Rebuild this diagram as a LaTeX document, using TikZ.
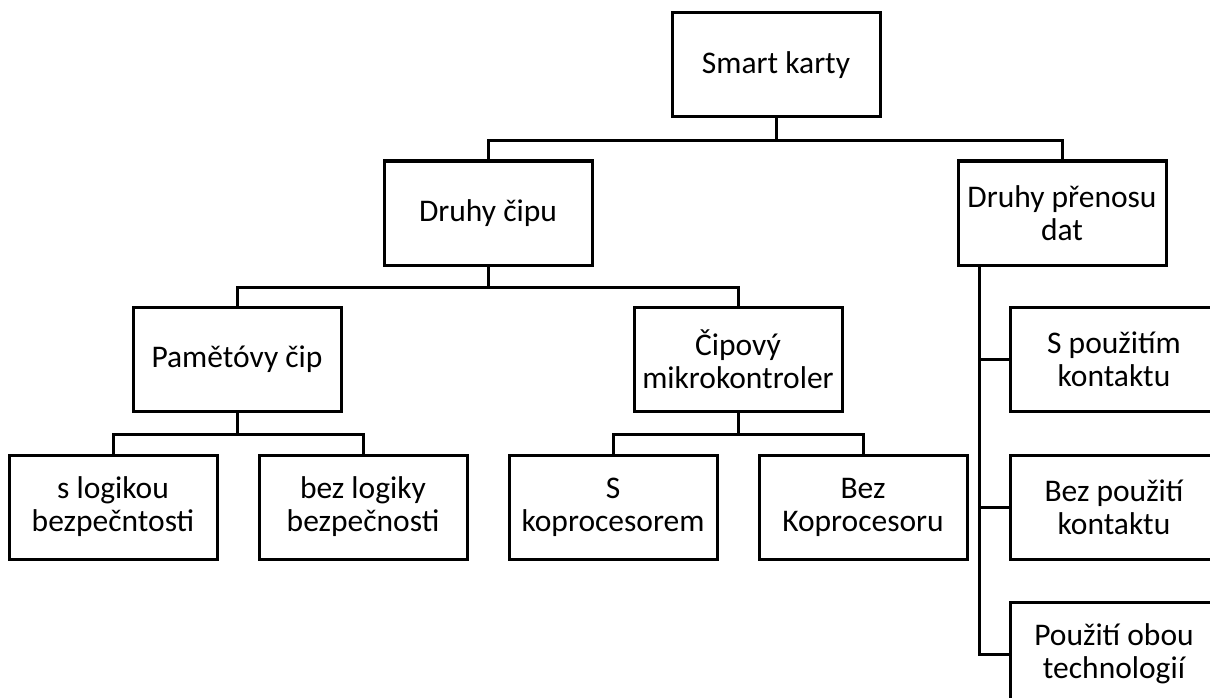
\documentclass[tikz,border=0pt]{standalone}
\usepackage{fontspec}
\setmainfont{Carlito}
\usetikzlibrary{calc}
\begin{document}
\begin{tikzpicture}[x=1pt,y=-1pt,
  box/.style={draw=black, line width=3pt, rectangle, minimum width=208pt, minimum height=104pt,
    align=center, inner sep=0pt, font=\fontsize{31.5}{33}\selectfont},
  wire/.style={draw=black, line width=3pt}]
  \clip (0,0) rectangle (1210,698);
  \fill[white] (0,0) rectangle (1210,698);

  % level 0 and 1
  \node[box] (root)  at (776,65)  {Smart karty};
  \node[box] (chip)  at (488,213) {Druhy čipu};
  \node[box] (trans) at (1062,213) {Druhy přenosu\\dat};

  % chip types
  \node[box] (mem) at (237,359) {Pamětóvy čip};
  \node[box] (mcu) at (738,359) {Čipový\\mikrokontroler};

  \node[box] (slog)   at (113,507) {s logikou\\bezpečntosti};
  \node[box] (bezlog) at (363,507) {bez logiky\\bezpečnosti};
  \node[box] (skop)   at (613,507) {S\\koprocesorem};
  \node[box] (bezkop) at (863,507) {Bez\\Koprocesoru};

  % data transfer types
  \node[box] (contact)     at (1114,359) {S použitím\\kontaktu};
  \node[box] (contactless) at (1114,507) {Bez použití\\kontaktu};
  \node[box] (both)        at (1114,654) {Použití obou\\technologií};

  % tree connectors
  \draw[wire] (root.south) -- ++(0,22) -| (chip.north);
  \draw[wire] (root.south) -- ++(0,22) -| (trans.north);

  \draw[wire] (chip.south) -- ++(0,21) -| (mem.north);
  \draw[wire] (chip.south) -- ++(0,21) -| (mcu.north);

  \draw[wire] (mem.south) -- ++(0,22) -| (slog.north);
  \draw[wire] (mem.south) -- ++(0,22) -| (bezlog.north);
  \draw[wire] (mcu.south) -- ++(0,22) -| (skop.north);
  \draw[wire] (mcu.south) -- ++(0,22) -| (bezkop.north);

  \coordinate (tv) at ($(trans.south west)+(23,0)$);
  \draw[wire] (tv) |- (contact.west);
  \draw[wire] (tv) |- (contactless.west);
  \draw[wire] (tv) |- (both.west);
\end{tikzpicture}
\end{document}
